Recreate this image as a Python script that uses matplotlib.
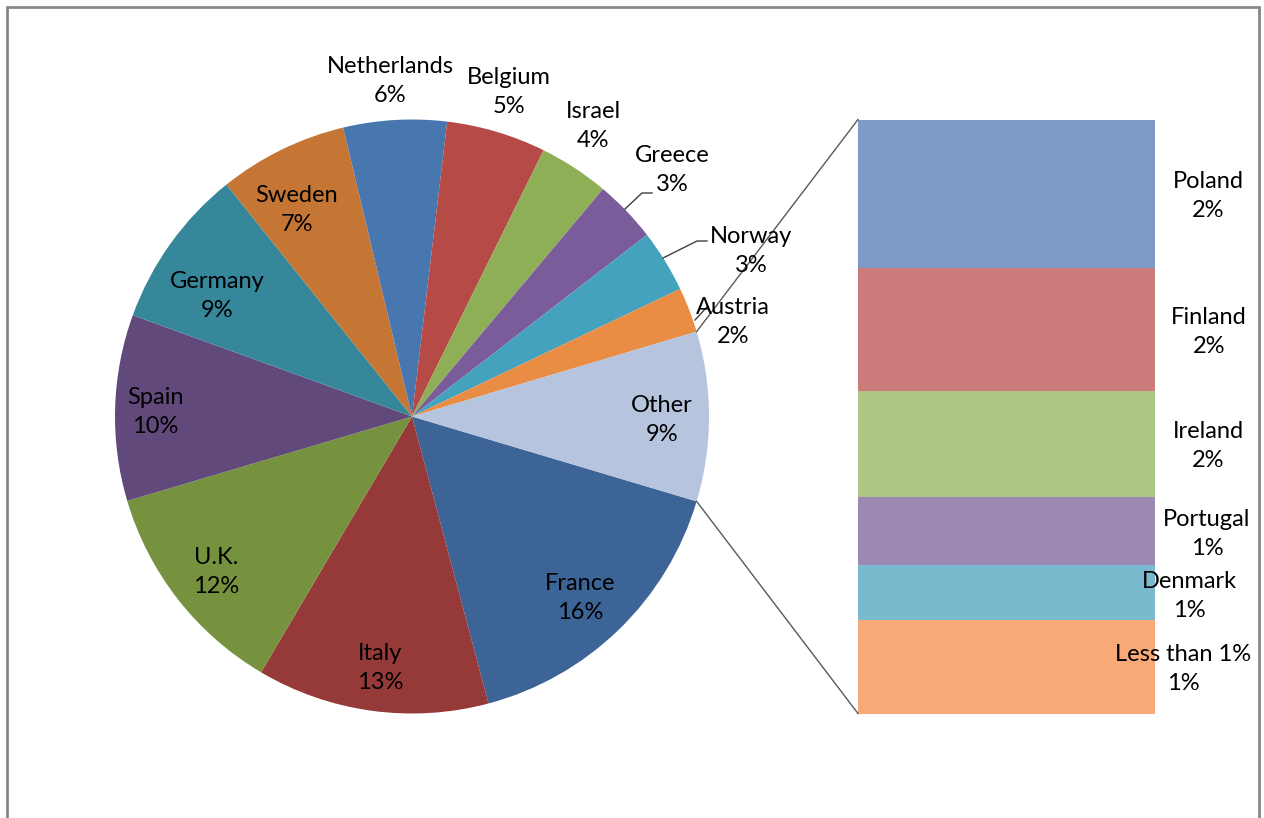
import numpy as np
import matplotlib
matplotlib.use("Agg")
import matplotlib.pyplot as plt
from matplotlib.patches import Rectangle

# pie slices (percent of total), clockwise starting just below "Other"
countries = ["France", "Italy", "U.K.", "Spain", "Germany", "Sweden", "Netherlands",
             "Belgium", "Israel", "Greece", "Norway", "Austria"]
shares = [16.2, 12.6, 11.9, 10.1, 8.7, 7.0, 5.6, 5.4, 3.8, 3.4, 3.4, 2.45]

# the "Other" slice, broken out in the bar (top to bottom)
other_names = ["Poland", "Finland", "Ireland", "Portugal", "Denmark", "Less than 1%"]
other_shares = [2.3, 1.9, 1.65, 1.05, 0.85, 1.45]

pie_colors = ["#3c6496", "#953a39", "#77923f", "#614a7b", "#37879a", "#c57635",
              "#4876af", "#b64a47", "#8faf56", "#7a5c9a", "#45a2be", "#e98d45", "#b6c4de"]
bar_colors = ["#7e9bc8", "#cb7b7a", "#afc785", "#9c89b3", "#7ab9ce", "#f8a978"]

# layout in pixels (y measured from the top of the picture)
W, H = 1264, 818
cx, cy, R = 412, 416.5, 297
bar_x, bar_w = 858, 297

pie_label_pos = {
    "France": (580, 598), "Italy": (380, 668), "U.K.": (216, 572), "Spain": (155, 412),
    "Germany": (217, 296), "Sweden": (297, 210), "Netherlands": (390, 81),
    "Belgium": (509, 92), "Israel": (593, 126), "Greece": (672, 170),
    "Norway": (751, 251), "Austria": (733, 322), "Other": (662, 420),
}
bar_label_pos = [(1208, 196), (1209, 332), (1208, 446), (1207, 534), (1189, 596), (1183, 669)]
leaders = {
    "Greece": [(625, 209), (642, 193), (652, 193)],
    "Norway": [(663, 258), (697, 241), (707, 241)],
    "Austria": [(695, 320), (707, 307)],
}

total = sum(shares) + sum(other_shares)
other = sum(other_shares)
pie_vals = shares + [other]
pie_names = countries + ["Other"]

plt.rcParams['font.family'] = ['Lato', 'DejaVu Sans']

fig = plt.figure(figsize=(W / 100, H / 100), dpi=100)
ax = fig.add_axes([0, 0, 1, 1])


def Y(py):
    return H - py


other_deg = other / total * 360
ax.pie(pie_vals, colors=pie_colors, startangle=-other_deg / 2, counterclock=False,
       center=(cx, Y(cy)), radius=R, wedgeprops=dict(linewidth=0))

# stacked bar for the "Other" breakdown
top = Y(cy) + R
scale = 2 * R / other
for name, v, c in zip(other_names, other_shares, bar_colors):
    h = v * scale
    ax.bar(bar_x, h, width=bar_w, bottom=top - h, align="edge", color=c, linewidth=0)
    top -= h

# connector lines from the Other slice to the bar
a = np.deg2rad(other_deg / 2)
ax.plot([cx + R * np.cos(a), bar_x], [Y(cy) + R * np.sin(a), Y(cy) + R], color="#595959", lw=1)
ax.plot([cx + R * np.cos(a), bar_x], [Y(cy) - R * np.sin(a), Y(cy) - R], color="#595959", lw=1)

for name, v in zip(pie_names, pie_vals):
    x, y = pie_label_pos[name]
    ax.text(x, Y(y), "%s\n%d%%" % (name, round(v / total * 100)), ha="center", va="center",
            fontsize=17, linespacing=1.5, color="black")
for name, pts in leaders.items():
    ax.plot([p[0] for p in pts], [Y(p[1]) for p in pts], color="#404040", lw=1)

for name, v, (x, y) in zip(other_names, other_shares, bar_label_pos):
    ax.text(x, Y(y), "%s\n%d%%" % (name, round(v / total * 100)), ha="center", va="center",
            fontsize=17, linespacing=1.5, color="black")

ax.set_xlim(0, W)
ax.set_ylim(0, H)
ax.set_aspect("equal")
ax.axis("off")

# chart-area frame
ax.add_patch(Rectangle((7, -20), 1252, Y(7) + 20, fill=False, edgecolor="#878787", lw=2))

fig.savefig("out.png", dpi=100)
